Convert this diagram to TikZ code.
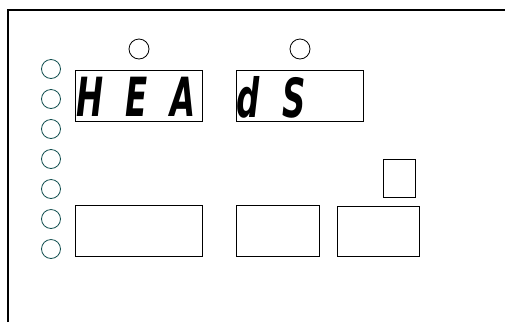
\documentclass[tikz,border=0pt]{standalone}
\usepackage{fontspec}
\newfontfamily\segfont{DejaVu Sans}
\definecolor{ledteal}{RGB}{20,80,80}
\begin{document}
\begin{tikzpicture}[x=1pt,y=-1pt]
    \tikzstyle{panel}=[line width=1.4pt]
    \tikzstyle{led}=[draw=ledteal, line width=0.8pt, circle, minimum size=19pt, inner sep=0pt]
    \tikzstyle{lamp}=[draw, line width=0.8pt, circle, minimum size=20pt, inner sep=0pt]
    \tikzstyle{box}=[draw, line width=1pt, inner sep=0pt, anchor=north west]
    \tikzstyle{digits}=[font=\segfont\bfseries\itshape\fontsize{54}{54}\selectfont, inner sep=0pt, anchor=west]
    \useasboundingbox (0,0) rectangle (505,322);
    % frame of the panel
    \draw[panel] (8,322) -- (8,10) -- (505,10);
    % indicator lamps
    \foreach \i in {1,...,7}
        \node[led] (led\i) at (51,{69+30*(\i-1)}) {};
    \node[lamp] (lampa) at (139,49) {};
    \node[lamp] (lampb) at (300,49) {};
    % displays
    \node[box, minimum width=127pt, minimum height=51pt] (dispa) at (75,70) {};
    \node[box, minimum width=127pt, minimum height=51pt] (dispb) at (236,70) {};
    \node[digits] (texta) at (76,97) {\scalebox{0.6}[1]{\addfontfeature{LetterSpace=70}HEA}};
    \node[digits] (textb) at (236,97) {\scalebox{0.6}[1]{\addfontfeature{LetterSpace=70}dS}};
    % keys
    \node[box, minimum width=127pt, minimum height=51pt] (keya) at (75,205) {};
    \node[box, minimum width=83pt, minimum height=51pt] (keyb) at (236,205) {};
    \node[box, minimum width=82pt, minimum height=50pt] (keyc) at (337,206) {};
    \node[box, minimum width=32pt, minimum height=38pt] (keyd) at (383,159) {};
\end{tikzpicture}
\end{document}
